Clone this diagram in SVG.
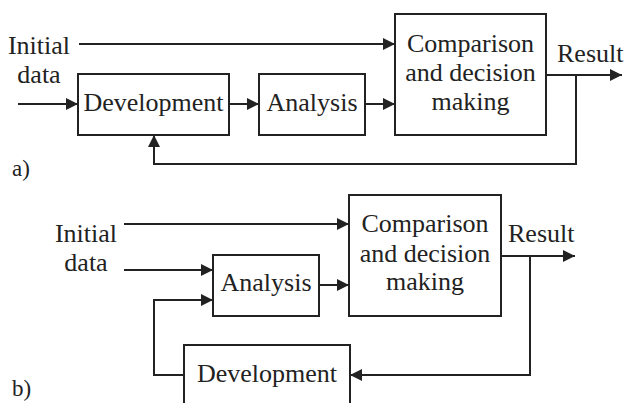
<svg xmlns="http://www.w3.org/2000/svg" width="625" height="403" viewBox="0 0 625 403" font-family="Liberation Serif, DejaVu Serif, serif">
<style>
  text { font-size: 26px; fill: #222; }
  .c { text-anchor: middle; }
  .lbl { font-size: 23px; }
  rect { fill: #fff; stroke: #222; stroke-width: 2; }
  .conn path { fill: none; stroke: #222; stroke-width: 2; }
</style>
<defs>
  <marker id="ah" viewBox="0 0 12 12" refX="12" refY="6" markerWidth="12" markerHeight="12" markerUnits="userSpaceOnUse" orient="auto">
    <path d="M0,0 L12,6 L0,12 Z" fill="#222"/>
  </marker>
</defs>

<!-- Part a -->
<g id="a-input">
  <text class="c" x="39" y="54">Initial</text>
  <text class="c" x="39" y="83">data</text>
</g>
<g id="a-development">
  <rect x="78" y="74" width="151" height="61"/>
  <text class="c" x="153.5" y="111">Development</text>
</g>
<g id="a-analysis">
  <rect x="259" y="74" width="106" height="61"/>
  <text class="c" x="312" y="111">Analysis</text>
</g>
<g id="a-comparison">
  <rect x="395" y="14" width="151" height="121"/>
  <text class="c" x="470.5" y="52">Comparison</text>
  <text class="c" x="470.5" y="81">and decision</text>
  <text class="c" x="470.5" y="110">making</text>
</g>
<g id="a-result">
  <text x="557" y="62">Result</text>
</g>
<text class="lbl" x="12" y="176">a)</text>

<!-- Part b -->
<g id="b-input">
  <text class="c" x="86" y="242">Initial</text>
  <text class="c" x="86" y="271">data</text>
</g>
<g id="b-analysis">
  <rect x="213" y="255" width="106" height="61"/>
  <text class="c" x="266" y="291">Analysis</text>
</g>
<g id="b-comparison">
  <rect x="349" y="195" width="152" height="121"/>
  <text class="c" x="425" y="232">Comparison</text>
  <text class="c" x="425" y="262">and decision</text>
  <text class="c" x="425" y="290">making</text>
</g>
<g id="b-development">
  <rect x="184" y="345" width="166" height="75"/>
  <text class="c" x="267" y="382">Development</text>
</g>
<g id="b-result">
  <text x="508" y="242">Result</text>
</g>
<text class="lbl" x="12" y="396">b)</text>

<g class="conn" id="connectors">
  <!-- a -->
  <path d="M79,44 H395" marker-end="url(#ah)"/>
  <path d="M18,104 H78" marker-end="url(#ah)"/>
  <path d="M229,104 H259" marker-end="url(#ah)"/>
  <path d="M365,104 H395" marker-end="url(#ah)"/>
  <path d="M546,75 H622" marker-end="url(#ah)"/>
  <path d="M576,75 V164 H154 V135" marker-end="url(#ah)"/>
  <!-- b -->
  <path d="M124,224 H349" marker-end="url(#ah)"/>
  <path d="M124,270 H213" marker-end="url(#ah)"/>
  <path d="M319,285 H349" marker-end="url(#ah)"/>
  <path d="M501,256 H575" marker-end="url(#ah)"/>
  <path d="M530,256 V375 H350" marker-end="url(#ah)"/>
  <path d="M184,375 H154 V300 H213" marker-end="url(#ah)"/>
</g>
</svg>
